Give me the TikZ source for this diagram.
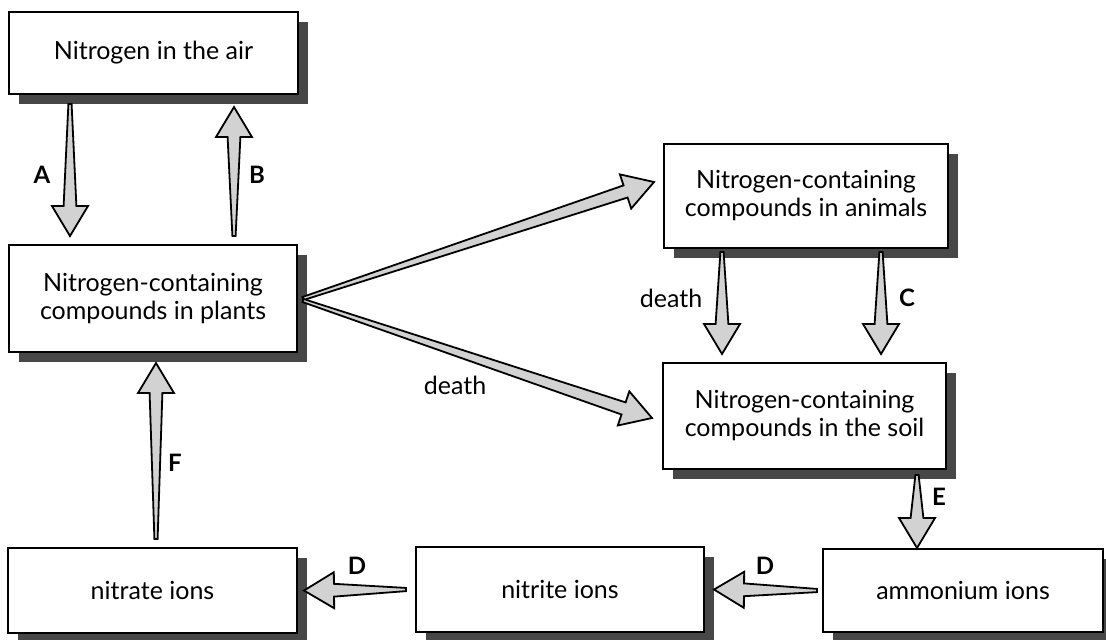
\documentclass[tikz,border=0pt]{standalone}
\usepackage{fontspec}
\setmainfont{Lato}
\usetikzlibrary{calc,shadows}
\tikzset{
    box/.style={draw,line width=1pt,fill=white,align=center,
        font=\fontsize{12.5}{14}\selectfont,
        drop shadow={shadow xshift=5pt,shadow yshift=-5pt,fill=black!80,opacity=0.9}},
    wedge/.style={draw,line width=0.9pt,fill=gray!35,line join=miter},
    tag/.style={font=\bfseries\fontsize{12}{14}\selectfont},
    note/.style={font=\fontsize{12.5}{14}\selectfont},
}
\newcommand{\taper}[2]{%
    \coordinate (tl) at (#1);
    \coordinate (tp) at (#2);
    \coordinate (hb) at ($(tp)!15pt!(tl)$);
    \draw[wedge] ($(tl)!0.8pt!90:(tp)$) -- ($(hb)!3.2pt!90:(tp)$) -- ($(hb)!9pt!90:(tp)$) -- (tp)
        -- ($(hb)!9pt!-90:(tp)$) -- ($(hb)!3.2pt!-90:(tp)$) -- ($(tl)!0.8pt!-90:(tp)$) -- cycle;
}

\begin{document}
\begin{tikzpicture}[x=0.5pt,y=-0.5pt]
\useasboundingbox (0,0) rectangle (1106,639);
\node[box,minimum width=144.5pt,minimum height=41pt] (air) at (153.5,53) {Nitrogen in the air};
\node[box,minimum width=144pt,minimum height=53.5pt] (plants) at (153,298.5) {Nitrogen-containing\\compounds in plants};
\node[box,minimum width=142pt,minimum height=52pt] (animals) at (806,196) {Nitrogen-containing\\compounds in animals};
\node[box,minimum width=141.5pt,minimum height=53pt] (soil) at (804.5,416) {Nitrogen-containing\\compounds in the soil};
\node[box,minimum width=144.5pt,minimum height=42.5pt] (nitrate) at (152.5,590.5) {nitrate ions};
\node[box,minimum width=144pt,minimum height=42.5pt] (nitrite) at (560,589.5) {nitrite ions};
\node[box,minimum width=140pt,minimum height=41.5pt] (ammonium) at (963,590.5) {ammonium ions};

\taper{$(air.south west)+(62,9)$}{$(plants.north west)+(62,-8)$}
\taper{$(plants.north west)+(226,-8)$}{$(air.south west)+(226,12)$}
\taper{$(plants.east)+(5,0)$}{$(animals.west)+(-9,-14)$}
\taper{$(plants.east)+(5,2)$}{$(soil.west)+(-10,2)$}
\taper{$(animals.south west)+(59,3)$}{$(soil.north west)+(60,-8)$}
\taper{$(animals.south west)+(218,3)$}{$(soil.north west)+(219,-8)$}
\taper{$(soil.south west)+(255,5)$}{$(ammonium.north west)+(95,0)$}
\taper{$(ammonium.west)+(-5,0)$}{$(nitrite.east)+(9,0)$}
\taper{$(nitrite.west)+(-9,0)$}{$(nitrate.east)+(6,0)$}
\taper{$(nitrate.north west)+(149,-8)$}{$(plants.south west)+(148,10)$}

\node[tag] (la) at (42,175) {A};
\node[tag] (lb) at (257,175) {B};
\node[tag] (lc) at (907,298) {C};
\node[tag] (le) at (939,497) {E};
\node[tag] (ld1) at (357,566) {D};
\node[tag] (ld2) at (765,566) {D};
\node[tag] (lf) at (175,463) {F};
\node[note] (death1) at (671,298) {death};
\node[note] (death2) at (455,385) {death};
\end{tikzpicture}
\end{document}
